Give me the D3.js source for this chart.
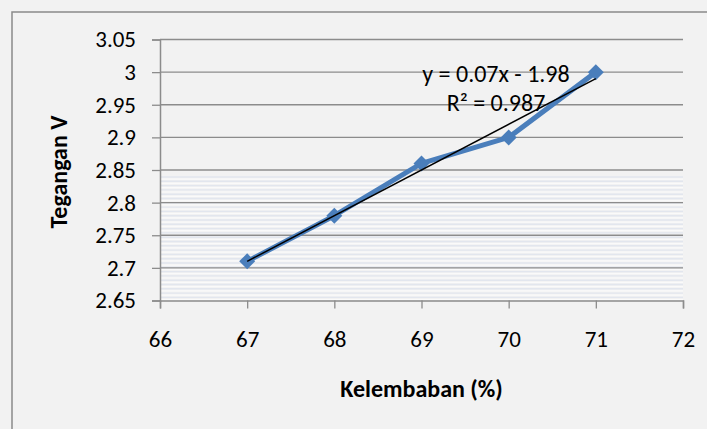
<!DOCTYPE html>
<html>
<head>
<meta charset="utf-8">
<script src="https://cdn.jsdelivr.net/npm/d3@7"></script>
<style>
  html, body { margin: 0; padding: 0; background: #f2f2f2; }
  svg { display: block; }
  text { font-family: Carlito, Lato, "Open Sans", sans-serif; fill: #000; }
</style>
</head>
<body>
<svg id="chart" width="707" height="429"></svg>
<script>
// Humidity (%) against measured voltage (V)
const kelembaban = [67, 68, 69, 70, 71];
const tegangan = [2.71, 2.78, 2.86, 2.90, 3.00];
const xTicks = [66, 67, 68, 69, 70, 71, 72];
const yTicks = [2.65, 2.7, 2.75, 2.8, 2.85, 2.9, 2.95, 3, 3.05];
const trendSlope = 0.07;
const trendIntercept = -1.98;
const trendLabel = ["y = 0.07x - 1.98", "R² = 0.987"];

const svg = d3.select("#chart");
const W = 707, H = 429;
const plot = { left: 160, right: 683, top: 39.5, bottom: 300.5 };
const FONT = "Carlito, Lato, sans-serif";

const x = d3.scaleLinear().domain([66, 72]).range([plot.left, plot.right]);
const y = d3.scaleLinear().domain([2.65, 3.05]).range([plot.bottom, plot.top]);

// page background and chart frame
svg.append("rect").attr("width", W).attr("height", H).attr("fill", "#f2f2f2");
svg.append("rect")
  .attr("x", 12).attr("y", 12).attr("width", W + 20).attr("height", H + 20)
  .attr("fill", "none").attr("stroke", "#8a8a8a").attr("stroke-width", 1.5);

// faint horizontal striping in the lower part of the plot
const stripes = svg.append("g");
for (let sy = 177; sy < plot.bottom; sy += 4.3) {
  stripes.append("line")
    .attr("x1", plot.left).attr("x2", plot.right)
    .attr("y1", sy).attr("y2", sy)
    .attr("stroke", "#e2e6ee").attr("stroke-width", 1.4);
  stripes.append("line")
    .attr("x1", plot.left).attr("x2", plot.right)
    .attr("y1", sy + 2.1).attr("y2", sy + 2.1)
    .attr("stroke", "#fafafa").attr("stroke-width", 1.2);
}

// horizontal gridlines
svg.append("g").selectAll("line").data(yTicks.slice(1)).join("line")
  .attr("x1", plot.left).attr("x2", plot.right)
  .attr("y1", d => y(d)).attr("y2", d => y(d))
  .attr("stroke", "#8c8c8c").attr("stroke-width", 1.3);

// y axis
const yAxis = svg.append("g").attr("transform", `translate(${plot.left},0)`)
  .call(d3.axisLeft(y).tickValues(yTicks).tickSize(8).tickPadding(16)
    .tickFormat(d => String(+d.toFixed(2))));
yAxis.select(".domain").attr("stroke", "#8c8c8c").attr("stroke-width", 1.5);
yAxis.selectAll(".tick line").attr("stroke", "#8c8c8c").attr("stroke-width", 1.3);
yAxis.selectAll("text").attr("font-size", 23).style("font-family", FONT);

// x axis
const xAxis = svg.append("g").attr("transform", `translate(0,${plot.bottom})`)
  .call(d3.axisBottom(x).tickValues(xTicks).tickSize(8).tickFormat(d3.format("d")));
xAxis.select(".domain").attr("stroke", "#8c8c8c").attr("stroke-width", 1.5);
xAxis.selectAll(".tick line").attr("stroke", "#8c8c8c").attr("stroke-width", 1.3);
xAxis.selectAll("text").attr("font-size", 23).attr("y", 0).attr("dy", 0)
  .attr("transform", "translate(0,46.5)")
  .style("font-family", FONT);

// axis titles
svg.append("text")
  .attr("x", (plot.left + plot.right) / 2).attr("y", 397)
  .attr("text-anchor", "middle").attr("font-size", 24).attr("font-weight", "bold")
  .text("Kelembaban (%)");
svg.append("text")
  .attr("transform", `translate(67,${(plot.top + plot.bottom) / 2 + 2}) rotate(-90)`)
  .attr("text-anchor", "middle").attr("font-size", 24).attr("font-weight", "bold")
  .text("Tegangan V");

// data series
const pts = kelembaban.map((k, i) => [k, tegangan[i]]);
svg.append("path")
  .datum(pts)
  .attr("d", d3.line().x(d => x(d[0])).y(d => y(d[1])))
  .attr("fill", "none").attr("stroke", "#4a7ebb").attr("stroke-width", 5)
  .attr("stroke-linejoin", "round");

const r = 8;
svg.append("g").selectAll("path").data(pts).join("path")
  .attr("transform", d => `translate(${x(d[0])},${y(d[1])})`)
  .attr("d", `M0,${-r}L${r},0L0,${r}L${-r},0Z`)
  .attr("fill", "#4a7ebb");

// linear trendline
const tx = d3.extent(kelembaban);
svg.append("line")
  .attr("x1", x(tx[0])).attr("y1", y(trendSlope * tx[0] + trendIntercept))
  .attr("x2", x(tx[1])).attr("y2", y(trendSlope * tx[1] + trendIntercept))
  .attr("stroke", "#000").attr("stroke-width", 1.5);

// trendline equation
svg.append("g").selectAll("text").data(trendLabel).join("text")
  .attr("x", 496).attr("y", (d, i) => 82 + i * 29)
  .attr("text-anchor", "middle").attr("font-size", 24)
  .text(d => d);
</script>
</body>
</html>
